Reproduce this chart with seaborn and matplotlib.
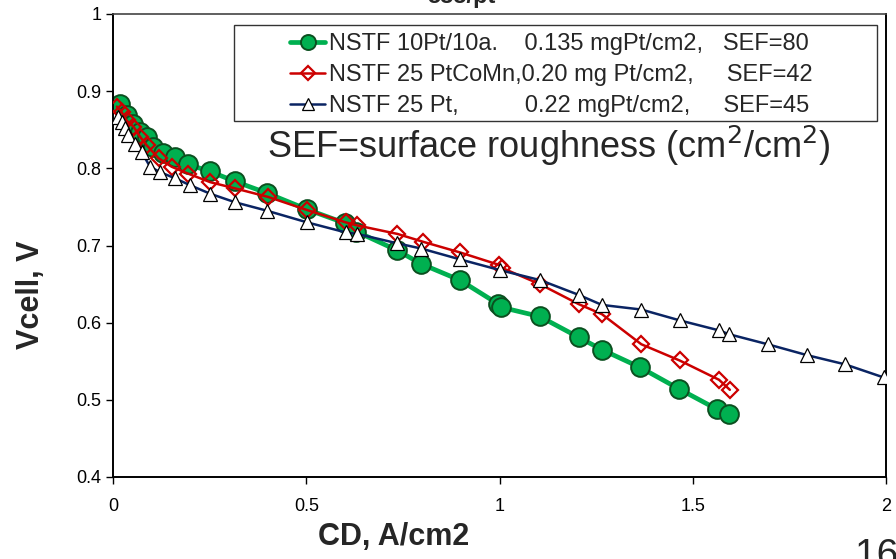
import matplotlib
matplotlib.use("Agg")
import matplotlib.pyplot as plt
import seaborn as sns
import pandas as pd
from matplotlib.patches import Rectangle

# ---- data ----
green_x = [0.018, 0.035, 0.053, 0.070, 0.087, 0.104, 0.130, 0.160, 0.195, 0.251, 0.316, 0.398,
           0.501, 0.600, 0.630, 0.734, 0.798, 0.898, 0.997, 1.004, 1.104, 1.205, 1.265, 1.364,
           1.465, 1.562, 1.593]
green_v = [0.884, 0.869, 0.858, 0.847, 0.841, 0.827, 0.820, 0.815, 0.805, 0.796, 0.783, 0.768,
           0.747, 0.729, 0.718, 0.694, 0.676, 0.655, 0.624, 0.620, 0.608, 0.581, 0.565, 0.542,
           0.514, 0.488, 0.482]

red_x = [0.010, 0.022, 0.035, 0.053, 0.070, 0.087, 0.118, 0.152, 0.195, 0.252, 0.316, 0.401,
         0.502, 0.602, 0.632, 0.736, 0.801, 0.898, 0.998, 1.006, 1.104, 1.205, 1.265, 1.367,
         1.466, 1.568, 1.596]
red_v = [0.880, 0.873, 0.862, 0.854, 0.841, 0.830, 0.813, 0.802, 0.793, 0.782, 0.774, 0.763,
         0.746, 0.730, 0.726, 0.715, 0.705, 0.691, 0.675, 0.671, 0.650, 0.624, 0.611, 0.572,
         0.551, 0.526, 0.513]

blue_x = [0.014, 0.022, 0.031, 0.040, 0.057, 0.074, 0.096, 0.122, 0.161, 0.200, 0.252, 0.316,
          0.399, 0.502, 0.602, 0.632, 0.734, 0.798, 0.898, 1.002, 1.106, 1.205, 1.265, 1.367,
          1.466, 1.568, 1.594, 1.694, 1.795, 1.894, 1.994]
blue_v = [0.867, 0.860, 0.852, 0.843, 0.832, 0.821, 0.802, 0.795, 0.787, 0.778, 0.767, 0.756,
          0.745, 0.730, 0.717, 0.715, 0.703, 0.696, 0.682, 0.668, 0.655, 0.636, 0.623, 0.617,
          0.603, 0.590, 0.585, 0.572, 0.558, 0.546, 0.529]

labels = ["NSTF 10Pt/10a.    0.135 mgPt/cm2,   SEF=80",
          "NSTF 25 PtCoMn,0.20 mg Pt/cm2,     SEF=42",
          "NSTF 25 Pt,          0.22 mgPt/cm2,     SEF=45"]

x_ticks = [0, 0.5, 1, 1.5, 2]
x_tick_labels = ["0", "0.5", "1", "1.5", "2"]
y_ticks = [0.4, 0.5, 0.6, 0.7, 0.8, 0.9, 1.0]
y_tick_labels = ["0.4", "0.5", "0.6", "0.7", "0.8", "0.9", "1"]

# ---- style ----
sns.set_style("ticks")
plt.rcParams["font.family"] = ["Liberation Sans", "DejaVu Sans"]

fig = plt.figure(figsize=(8.96, 5.59), dpi=100)
ax = fig.add_axes([113/896, 82/559, 773/896, 463/559])

df_g = pd.DataFrame({"x": green_x, "v": green_v})
df_r = pd.DataFrame({"x": red_x, "v": red_v})
df_b = pd.DataFrame({"x": blue_x, "v": blue_v})

sns.lineplot(data=df_g, x="x", y="v", ax=ax, sort=False, estimator=None,
             color="#00B050", lw=3.4, marker="o", markersize=13.5,
             markerfacecolor="#00B050", markeredgecolor="#0B4F1F", markeredgewidth=1.4,
             label=labels[0], zorder=2)
sns.lineplot(data=df_r, x="x", y="v", ax=ax, sort=False, estimator=None,
             color="#CC0000", lw=1.8, marker="D", markersize=8.5,
             markerfacecolor="none", markeredgecolor="#CC0000", markeredgewidth=1.6,
             label=labels[1], zorder=3)
sns.lineplot(data=df_b, x="x", y="v", ax=ax, sort=False, estimator=None,
             color="#0A2463", lw=1.8, marker="^", markersize=10,
             markerfacecolor="white", markeredgecolor="black", markeredgewidth=0.9,
             label=labels[2], zorder=4)

ax.set_xlim(0, 2)
ax.set_ylim(0.4, 1.0)
ax.set_xticks(x_ticks)
ax.set_xticklabels(x_tick_labels)
ax.set_yticks(y_ticks)
ax.set_yticklabels(y_tick_labels)
ax.tick_params(axis="both", direction="out", length=5, width=1, labelsize=13, colors="black")
ax.tick_params(axis="x", pad=10)
ax.set_xlabel("")
ax.set_ylabel("")
for side in ["left", "bottom", "right"]:
    ax.spines[side].set_visible(True)
    ax.spines[side].set_color("black")
    ax.spines[side].set_linewidth(1.4)
ax.spines["top"].set_visible(True)
ax.spines["top"].set_color("#444444")
ax.spines["top"].set_linewidth(1.2)

# legend frame and legend
ax.add_patch(Rectangle((121/773, (477-121)/463), (877-234)/773, (121-25)/463,
                       transform=ax.transAxes, fill=True, facecolor="white",
                       edgecolor="#333333", lw=1.0, zorder=5))
leg = ax.legend(loc="upper left", bbox_to_anchor=((290-113)/773, (477-33)/463),
                frameon=False, fontsize=17, handlelength=1.5, handletextpad=0.15,
                labelspacing=0.38, borderpad=0.0, borderaxespad=0.0, markerscale=0.8)
leg.set_zorder(6)

ax.text((267-113)/773, (477-146)/463, "SEF=surface roughness (cm$^2$/cm$^2$)",
        transform=ax.transAxes, fontsize=26, va="center", ha="left", zorder=6)

fig.text(31/896, 1 - 295/559, "Vcell, V", rotation=90, fontsize=22, fontweight="bold",
         ha="center", va="center")
fig.text(394/896, 1 - 537/559, "CD, A/cm2", fontsize=22, fontweight="bold",
         ha="center", va="center")
fig.text(461/896, 1 - 3/559, "535/pt", fontsize=17, fontweight="bold",
         ha="center", va="baseline")
fig.text(855/896, 1 - 538/559, "16", fontsize=28, ha="left", va="top")

fig.savefig("out.png", dpi=100)
